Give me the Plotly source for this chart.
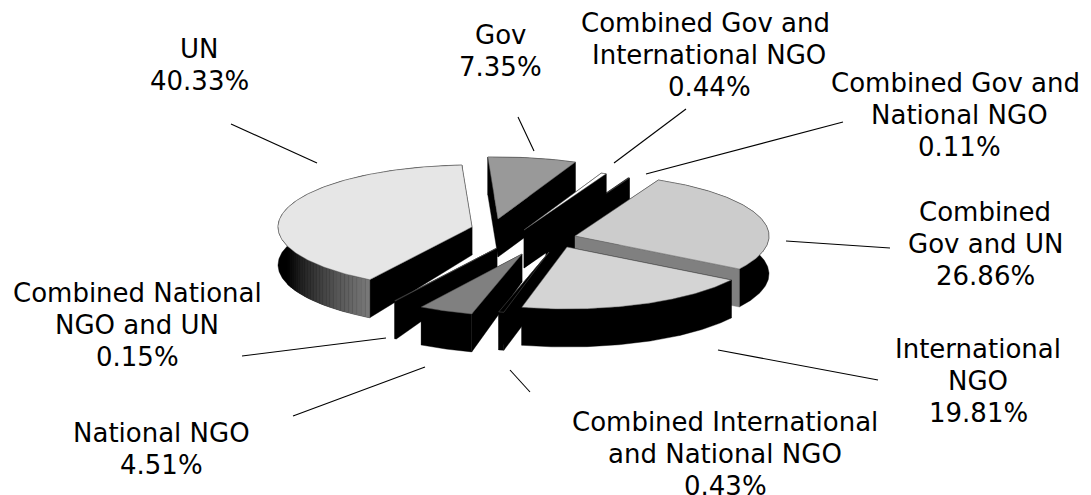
import math
import plotly.graph_objects as go

# ---------- data ----------
labels = ["Gov", "Combined Gov and International NGO", "Combined Gov and National NGO",
          "Combined Gov and UN", "International NGO", "Combined International and National NGO",
          "National NGO", "Combined National NGO and UN", "UN"]
values = [7.35, 0.44, 0.11, 26.86, 19.81, 0.43, 4.51, 0.15, 40.33]
value_text = ["7.35%", "0.44%", "0.11%", "26.86%", "19.81%", "0.43%", "4.51%", "0.15%", "40.33%"]

# ---------- label layout ----------
label_lines = [["Gov"], ["Combined Gov and\u00a0", "International NGO"], ["Combined Gov and\u00a0", "National NGO"],
               ["Combined", "Gov and UN"], ["International", "NGO"], ["Combined International", "and National NGO"],
               ["National NGO"], ["Combined National", "NGO and UN"], ["UN"]]
label_x = [500, 709, 959, 985, 978, 725, 161, 137, 199]
label_y = [35, 23, 83, 212, 349, 422, 433, 293, 49]
LINE_STEP = 32
leader_x0 = [518, 686, 843, 890, 878, 530, 293, 242, 231]
leader_y0 = [117, 109, 122, 248, 380, 392, 416, 356, 124]
leader_x1 = [534, 614, 646, 786, 718, 510, 425, 386, 317]
leader_y1 = [151, 163, 174, 241, 350, 370, 367, 338, 163]

# ---------- pie geometry / styles ----------
RX, RY, DEPTH = 194, 62, 38
START_DEG = -3
apex_x = [498, 524, 546, 575, 567, 549, 522, 497, 472]
apex_y = [219, 230, 234, 236, 247, 252, 254, 248, 227]
apex_depth = [38, 38, 38, 38, 38, 38, 28, 20, 28]
top_colors = ["#999999", "#ffffff", "#000000", "#cccccc", "#d4d4d4", "#000000", "#808080", "#000000", "#e6e6e6"]
end_face_colors = ["#000000", "#000000", "#000000", "#808080", "#000000", "#000000", "#000000", "#000000", "#000000"]
draw_order = [0, 2, 1, 3, 8, 7, 6, 5, 4]

fig = go.Figure()


def poly(xs, ys, fill, edge=None, width=0.0):
    fig.add_trace(go.Scatter(
        x=list(xs) + [xs[0]], y=list(ys) + [ys[0]], mode="lines", fill="toself", fillcolor=fill,
        line=dict(color=edge or fill, width=width if edge else 0.4), hoverinfo="skip", showlegend=False))


total = sum(values)
edges = [START_DEG]
for v in values:
    edges.append(edges[-1] + v / total * 360)


def rim(i, a):
    r = math.radians(a)
    return apex_x[i] + RX * math.sin(r), apex_y[i] - RY * math.cos(r)


for i in draw_order:
    a0, a1 = edges[i], edges[i + 1]
    n = max(2, int((a1 - a0) * 1.5))
    angles = [a0 + (a1 - a0) * k / n for k in range(n + 1)]
    pts = [rim(i, a) for a in angles]
    ax, ay = apex_x[i], apex_y[i]
    d = apex_depth[i]
    # start cut face
    sx, sy = pts[0]
    poly([ax, sx, sx, ax], [ay, sy, sy + DEPTH, ay + d], "#000000")
    # outer side wall
    xs = [p[0] for p in pts]
    ys = [p[1] for p in pts]
    poly(xs + xs[::-1], ys + [y + DEPTH for y in ys[::-1]], "#000000")
    # shaded part of the wall of the largest slice
    if labels[i] == "UN":
        g0, g1 = a0, a0 + 40
        steps = 26
        for s in range(steps):
            b0 = g0 + (g1 - g0) * s / steps
            b1 = g0 + (g1 - g0) * (s + 1) / steps
            level = int(120 * (1 - s / steps))
            px0, py0 = rim(i, b0)
            px1, py1 = rim(i, b1)
            poly([px0, px1, px1, px0], [py0, py1, py1 + DEPTH, py0 + DEPTH], f"rgb({level},{level},{level})")
    # end cut face
    ex, ey = pts[-1]
    poly([ax, ex, ex, ax], [ay, ey, ey + DEPTH, ay + d], end_face_colors[i])
    # top
    poly([ax] + xs, [ay] + ys, top_colors[i], "#5a5a5a", 0.5)

for x0, y0, x1, y1 in zip(leader_x0, leader_y0, leader_x1, leader_y1):
    fig.add_trace(go.Scatter(x=[x0, x1], y=[y0, y1], mode="lines", line=dict(color="#000000", width=1.1),
                             hoverinfo="skip", showlegend=False))

for i in range(len(labels)):
    for k, text in enumerate(label_lines[i] + [value_text[i]]):
        fig.add_annotation(x=label_x[i], y=label_y[i] + k * LINE_STEP, text=text, showarrow=False,
                           xanchor="center", yanchor="middle",
                           font=dict(family="DejaVu Sans", size=26, color="#000000"))

fig.update_xaxes(visible=False, range=[0, 1091], fixedrange=True)
fig.update_yaxes(visible=False, range=[495, 0], fixedrange=True)
fig.update_layout(width=1091, height=495, margin=dict(l=0, r=0, t=0, b=0),
                  paper_bgcolor="#ffffff", plot_bgcolor="#ffffff", showlegend=False)
fig.write_html("out.html", config=dict(displayModeBar=False),
               post_script="document.body.style.margin='0';document.documentElement.style.overflow='hidden';")
